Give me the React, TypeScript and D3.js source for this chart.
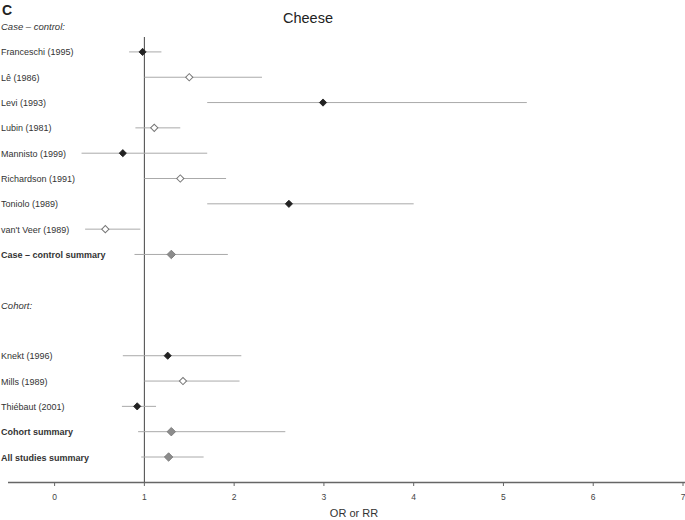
import React from "react";
import * as d3 from "d3";

const labels = [
  "Franceschi (1995)", "Lê (1986)", "Levi (1993)", "Lubin (1981)", "Mannisto (1999)",
  "Richardson (1991)", "Toniolo (1989)", "van't Veer (1989)", "Case – control summary",
  "Knekt (1996)", "Mills (1989)", "Thiébaut (2001)", "Cohort summary", "All studies summary",
];
const rowIndex = [1, 2, 3, 4, 5, 6, 7, 8, 9, 13, 14, 15, 16, 17];
const estimate = [0.98, 1.5, 2.99, 1.11, 0.76, 1.4, 2.61, 0.565, 1.3, 1.26, 1.43, 0.92, 1.3, 1.27];
const lower = [0.83, 1.0, 1.7, 0.9, 0.3, 1.0, 1.7, 0.34, 0.89, 0.76, 1.0, 0.75, 0.93, 0.965];
const upper = [1.19, 2.31, 5.26, 1.4, 1.7, 1.91, 4.0, 0.955, 1.93, 2.08, 2.06, 1.13, 2.57, 1.66];
const markerType = ["filled", "open", "filled", "open", "filled", "open", "filled", "open", "summary",
  "filled", "open", "filled", "summary", "summary"];
const headers = ["Case – control:", "Cohort:"];
const headerRows = [0, 11];
const xTicks = [0, 1, 2, 3, 4, 5, 6, 7];

const FONT = "'Liberation Sans', Arial, Helvetica, sans-serif";

export default function App() {
  const W = 685, H = 520;
  const x = d3.scaleLinear().domain([0, 7]).range([54.6, 683]);
  const y = d3.scaleLinear().domain([0, 17]).range([26.6, 457]);
  const axisY = 482.5;
  const small = d3.symbol().type(d3.symbolSquare).size(26);
  const big = d3.symbol().type(d3.symbolSquare).size(36);

  return (
    <svg width={W} height={H} style={{ position: "absolute", left: 0, top: 0, fontFamily: FONT }}>
      <rect width={W} height={H} fill="#fff" />
      <text x={2} y={15} fontSize={14} fontWeight="bold" fill="#222">C</text>
      <text x={308} y={23} fontSize={14.5} textAnchor="middle" fill="#222">Cheese</text>
      {headers.map((h, i) => (
        <text key={h} x={1} y={y(headerRows[i]) + 3.5} fontSize={9.5} fontStyle="italic" fill="#333">{h}</text>
      ))}
      {/* reference line at 1 */}
      <line x1={x(1)} x2={x(1)} y1={37} y2={axisY} stroke="#444" strokeWidth={1} />
      {labels.map((l, i) => {
        const yy = y(rowIndex[i]);
        const t = markerType[i];
        return (
          <g key={l}>
            <text x={1} y={yy + 3.5} fontSize={9} fontWeight={t === "summary" ? "bold" : "normal"} fill="#333">{l}</text>
            <line x1={x(lower[i])} x2={x(upper[i])} y1={yy} y2={yy} stroke="#aaa" strokeWidth={1} />
            <path
              d={(t === "summary" ? big : small)() as string}
              transform={`translate(${x(estimate[i])},${yy}) rotate(45)`}
              fill={t === "filled" ? "#222" : t === "open" ? "#fff" : "#8c8c8c"}
              stroke={t === "filled" ? "#222" : "#777"}
              strokeWidth={t === "open" ? 1 : 0.8}
            />
          </g>
        );
      })}
      {/* x axis */}
      <line x1={8} x2={685} y1={axisY} y2={axisY} stroke="#666" strokeWidth={1.3} />
      {xTicks.map((t) => (
        <g key={t}>
          <line x1={x(t)} x2={x(t)} y1={axisY} y2={axisY + 3.5} stroke="#666" strokeWidth={1} />
          <text x={x(t)} y={axisY + 17} fontSize={8.5} textAnchor="middle" fill="#444">{t}</text>
        </g>
      ))}
      <text x={354} y={517} fontSize={11} textAnchor="middle" fill="#333">OR or RR</text>
    </svg>
  );
}
